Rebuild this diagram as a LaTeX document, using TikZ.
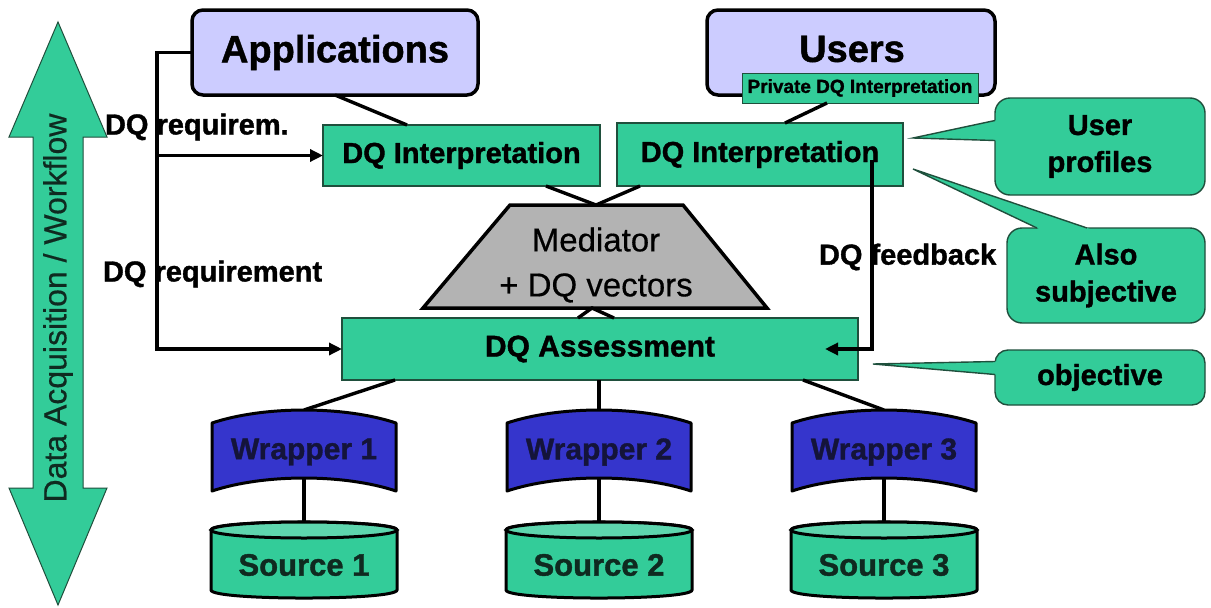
\documentclass[tikz,border=0pt]{standalone}
\usepackage{fontspec}
\setmainfont{Liberation Sans}[BoldFeatures={FakeBold=1.2}]
\newfontfamily\medfont{Liberation Sans}[FakeBold=0.5]
\usetikzlibrary{arrows.meta,calc}
\definecolor{dqgreen}{HTML}{33CC99}
\definecolor{dqtop}{HTML}{5ED6AE}
\definecolor{dqedge}{HTML}{1F4F3C}
\definecolor{lav}{HTML}{CCCCFF}
\definecolor{wblue}{HTML}{3535CC}
\definecolor{medgray}{HTML}{B3B3B3}
\definecolor{navytext}{HTML}{14143A}
\definecolor{darktext}{HTML}{0F2A20}
\newcommand{\fsz}[1]{\fontsize{#1}{#1}\selectfont}
\tikzset{
  wrappershape/.pic={
    \path[draw=black,line width=3pt,fill=wblue,line join=round]
      (-92,-29) .. controls (-40,-46.3) and (40,-46.3) .. (92,-29)
      -- (92,39) .. controls (40,21.7) and (-40,21.7) .. (-92,39) -- cycle;
  },
  sourceshape/.pic={
    \path[draw=black,line width=3pt,fill=dqgreen]
      (-93,-34) -- (-93,26) .. controls (-93,36.7) and (93,36.7) .. (93,26)
      -- (93,-34) .. controls (93,-44.7) and (-93,-44.7) .. (-93,-34) -- cycle;
    \path[draw=black,line width=3pt,fill=dqtop] (0,-34) ellipse [x radius=93,y radius=8];
  }
}
\begin{document}
\begin{tikzpicture}[x=1pt,y=-1pt,
  every node/.style={inner sep=0pt,outer sep=0pt},
  topbox/.style={draw=black,line width=3.5pt,fill=lav,rounded corners=11pt},
  greenbox/.style={draw=dqedge,line width=1.4pt,fill=dqgreen},
  calloutbox/.style={draw=dqedge,line width=1.4pt,fill=dqgreen,rounded corners=15pt,align=center,font=\fontsize{29}{37}\selectfont\bfseries},
  conn/.style={draw=black,line width=3.4pt},
  arr/.style={conn,-{Triangle[length=13pt,width=12pt]}},
  lbl/.style={font=\fsz{29}\bfseries,anchor=west},
  wraptext/.style={font=\fsz{30}\bfseries,text=navytext},
  srctext/.style={font=\fsz{31}\bfseries,text=darktext},
  pointer/.style={draw=dqedge,line width=1.4pt}
]
\useasboundingbox (0,0) rectangle (1211,608);
\fill[white] (0,0) rectangle (1211,608);

% workflow double arrow
\path[fill=dqgreen,draw=dqedge,line width=1pt]
  (58,22) -- (107,137) -- (83,137) -- (83,488) -- (107,488) -- (58,605)
  -- (9,488) -- (33,488) -- (33,137) -- (9,137) -- cycle;
\node[rotate=90,font=\medfont\fsz{32},text=darktext] (flow) at (58,308) {Data Acquisition / Workflow};

% coordinates
\coordinate (medtop) at (596,205);
\coordinate (medbot) at (592,308);
\coordinate (bus) at (157,52.5);
\coordinate (fbtop) at (872,160);
\coordinate (w1top) at (304,410);
\coordinate (w2top) at (599,410);
\coordinate (w3top) at (884,410);
\coordinate (w1bot) at (304,478);
\coordinate (w2bot) at (599,478);
\coordinate (w3bot) at (884,478);
\coordinate (s1top) at (304,522);
\coordinate (s2top) at (599,522);
\coordinate (s3top) at (884,522);

% main boxes
\node[topbox,minimum width=286pt,minimum height=85pt,font=\fsz{38}\bfseries] (app) at (335,52.5) {Applications};
\node[topbox,minimum width=288pt,minimum height=85pt] (users) at (851,52.5) {};
\node[font=\fsz{38}\bfseries] (userstxt) at (852,49) {Users};
\node[greenbox,line width=1pt,minimum width=236pt,minimum height=30pt,font=\fsz{19}\bfseries] (priv) at (860,88) {Private DQ Interpretation};

\node[greenbox,minimum width=277pt,minimum height=61pt,font=\fsz{29}\bfseries] (dqi1) at (461.5,155.5) {DQ Interpretation};
\node[greenbox,minimum width=286pt,minimum height=63pt,font=\fsz{29}\bfseries] (dqi2) at (760,154.5) {DQ Interpretation};

% connectors behind shapes
\draw[conn] (app.south) -- ($(dqi1.north)+(-54.5,0)$);
\draw[conn] ($(priv.south)+(-33,0)$) -- ($(dqi2.north)+(25,0)$);
\draw[conn] ($(dqi1.south)+(84.5,0)$) -- (medtop) -- ($(dqi2.south)+(-120,0)$);

% mediator
\path[fill=medgray,draw=black,line width=3.5pt] (510,205) -- (683,205) -- (767,308) -- (423,308) -- cycle;
\node[align=center,font=\medfont\fontsize{33}{45}\selectfont] (med) at (596,265) {Mediator\\+ DQ vectors};

% assessment
\node[greenbox,minimum width=516pt,minimum height=62pt,font=\fsz{30}\bfseries] (ass) at (600,349) {DQ Assessment};
\draw[conn] ($(ass.north)+(-22,0)$) -- (medbot) -- ($(ass.north)+(14,0)$);

% assessment to wrappers, wrappers to sources
\draw[conn] ($(ass.south)+(-205,0)$) -- (w1top);
\draw[conn] ($(ass.south)+(-1,0)$) -- (w2top);
\draw[conn] ($(ass.south)+(203,0)$) -- (w3top);
\draw[conn] (w1bot) -- (s1top);
\draw[conn] (w2bot) -- (s2top);
\draw[conn] (w3bot) -- (s3top);

\pic at (304,452) {wrappershape};
\pic at (599,452) {wrappershape};
\pic at (884,452) {wrappershape};
\node[wraptext] (w1) at (304,452) {Wrapper 1};
\node[wraptext] (w2) at (599,452) {Wrapper 2};
\node[wraptext] (w3) at (884,452) {Wrapper 3};

\pic at (304,564) {sourceshape};
\pic at (599,564) {sourceshape};
\pic at (884,564) {sourceshape};
\node[srctext] (s1) at (304,565) {Source 1};
\node[srctext] (s2) at (599,565) {Source 2};
\node[srctext] (s3) at (884,565) {Source 3};

% requirement arrows
\draw[arr] (app.west) -- (bus) |- (ass.west);
\draw[arr] (bus |- dqi1.west) -- (dqi1.west);
\node[lbl] (req1) at (105,127) {DQ requirem.};
\node[lbl] (req2) at (103,274) {DQ requirement};

% feedback
\draw[arr] (fbtop) |- ($(ass.east)+(-33,0)$);
\node[lbl] (fbl) at (819,257) {DQ feedback};

% callouts
\node[calloutbox,minimum width=210pt,minimum height=97pt] (prof) at (1100,146.5) {User\\profiles};
\node[calloutbox,minimum width=198pt,minimum height=95pt] (subj) at (1106,275.5) {Also\\subjective};
\node[calloutbox,minimum width=210pt,minimum height=55pt,rounded corners=13pt] (obj) at (1100,377.5) {objective};

\coordinate (proftip) at (913,138);
\coordinate (pb1) at ($(prof.west)+(0,-26)$);
\coordinate (pb2) at ($(prof.west)+(0,-6)$);
\fill[dqgreen] (proftip) -- ($(proftip)!1.1!(pb1)$) -- ($(proftip)!1.1!(pb2)$) -- cycle;
\draw[pointer] (pb1) -- (proftip) -- (pb2);

\coordinate (subjtip) at (913,169);
\coordinate (sb1) at ($(subj.north)+(-19,0)$);
\coordinate (sb2) at ($(subj.north)+(-69,0)$);
\fill[dqgreen] (subjtip) -- ($(subjtip)!1.1!(sb1)$) -- ($(subjtip)!1.1!(sb2)$) -- cycle;
\draw[pointer] (sb1) -- (subjtip) -- (sb2);

\coordinate (objtip) at (873,364);
\coordinate (ob1) at ($(obj.west)+(0,-16)$);
\coordinate (ob2) at ($(obj.west)+(0,-3)$);
\fill[dqgreen] (objtip) -- ($(objtip)!1.1!(ob1)$) -- ($(objtip)!1.1!(ob2)$) -- cycle;
\draw[pointer] (ob1) -- (objtip) -- (ob2);
\end{tikzpicture}
\end{document}
